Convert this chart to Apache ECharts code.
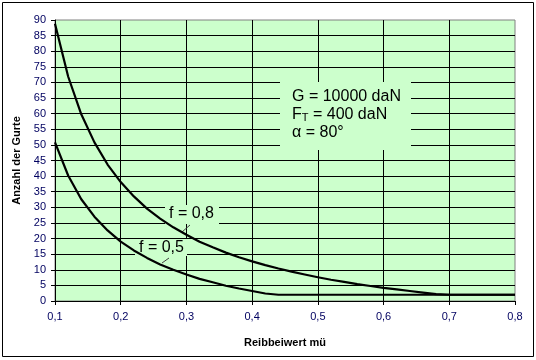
<!DOCTYPE html>
<html>
<head>
<meta charset="utf-8">
<script src="https://cdn.jsdelivr.net/npm/echarts@6/dist/echarts.min.js"></script>
<style>
html,body{margin:0;padding:0;background:#fff;}
#c{width:536px;height:360px;}
</style>
</head>
<body>
<div id="c"></div>
<script>
var mu = [0.10,0.12,0.14,0.16,0.18,0.20,0.22,0.24,0.26,0.28,0.30,0.32,0.34,0.36,0.38,0.40,0.42,0.44,0.46,0.48,0.50,0.52,0.54,0.56,0.58,0.60,0.62,0.64,0.66,0.68,0.70,0.72,0.74,0.76,0.78,0.80];
var f08 = [88.8,71.9,59.8,50.8,43.7,38.1,33.5,29.6,26.4,23.6,21.2,19.0,17.2,15.5,14.0,12.7,11.5,10.4,9.4,8.5,7.6,6.8,6.1,5.4,4.8,4.2,3.7,3.2,2.7,2.2,2,2,2,2,2,2];
var f05 = [50.8,40.2,32.6,27.0,22.6,19.0,16.2,13.8,11.7,10.0,8.5,7.1,6.0,4.9,4.0,3.2,2.4,2,2,2,2,2,2,2,2,2,2,2,2,2,2,2,2,2,2,2];
var xTitle = 'Reibbeiwert mü';
var yTitle = 'Anzahl der Gurte';
var infoLines = ['G = 10000 daN', 'F', 'T', ' = 400 daN', 'α = 80°'];
var curveLabels = ['f = 0,8', 'f = 0,5'];

function pairs(xs, ys){ return xs.map(function(x,i){ return [x, ys[i]]; }); }

var chart = echarts.init(document.getElementById('c'), null, {renderer:'canvas'});
var font = 'Arial, "Liberation Sans", sans-serif';
var bg = '#CCFFCC';
chart.setOption({
  animation:false,
  backgroundColor:'#ffffff',
  grid:{left:55, right:21, top:20, bottom:59, show:true, backgroundColor:bg, borderColor:'#808080', borderWidth:1},
  xAxis:{
    type:'value', min:0.1, max:0.8, interval:0.1,
    name:xTitle, nameLocation:'middle', nameGap:36,
    nameTextStyle:{fontFamily:font, fontSize:11, fontWeight:'bold', color:'#000'},
    axisLine:{show:true, lineStyle:{color:'#000', width:1}},
    axisTick:{show:true, length:4, lineStyle:{color:'#000'}},
    axisLabel:{margin:10, fontFamily:font, fontSize:11, color:'#000060', formatter:function(v){return v.toFixed(1).replace('.',',');}},
    splitLine:{show:true, showMinLine:false, showMaxLine:false, lineStyle:{color:'#000', width:1}}
  },
  yAxis:{
    type:'value', min:0, max:90, interval:5,
    name:yTitle, nameLocation:'middle', nameGap:30, nameRotate:90,
    nameTextStyle:{fontFamily:font, fontSize:11, fontWeight:'bold', color:'#000'},
    axisLine:{show:true, lineStyle:{color:'#000', width:1}},
    axisTick:{show:true, length:4, lineStyle:{color:'#000'}},
    axisLabel:{margin:9, fontFamily:font, fontSize:11, color:'#000060'},
    splitLine:{show:true, showMinLine:false, showMaxLine:false, lineStyle:{color:'#000', width:1}}
  },
  series:[
    {type:'line', data:pairs(mu,f08), showSymbol:false, lineStyle:{color:'#000', width:2.2}, z:5},
    {type:'line', data:pairs(mu,f05), showSymbol:false, lineStyle:{color:'#000', width:2.2}, z:5}
  ],
  graphic:[
    {type:'rect', shape:{x:2.5, y:2.5, width:531, height:354}, style:{fill:null, stroke:'#000', lineWidth:1}, z:100},
    {type:'rect', shape:{x:280, y:82, width:131, height:68}, style:{fill:bg}, z:1},
    {type:'rect', shape:{x:165, y:205, width:54, height:19}, style:{fill:bg}, z:1},
    {type:'rect', shape:{x:135, y:239, width:52, height:17}, style:{fill:bg}, z:1},
    {type:'text', left:292, top:89, style:{text:infoLines[0], font:'16px '+font, fill:'#000'}, z:2},
    {type:'text', left:292, top:107, style:{
      text:'{a|'+infoLines[1]+'}{b|'+infoLines[2]+'}{a|'+infoLines[3]+'}',
      rich:{a:{fontSize:16, fontFamily:font, color:'#000'}, b:{fontSize:11, fontFamily:font, color:'#000', padding:[5,0,0,0]}}
    }, z:2},
    {type:'text', left:292, top:125, style:{text:infoLines[4], font:'16px '+font, fill:'#000'}, z:2},
    {type:'text', left:169, top:206, style:{text:curveLabels[0], font:'16px '+font, fill:'#000'}, z:2},
    {type:'text', left:139, top:240, style:{text:curveLabels[1], font:'16px '+font, fill:'#000'}, z:2},
    {type:'line', shape:{x1:190, y1:225, x2:182, y2:232}, style:{stroke:'#404040', lineWidth:1}, z:2},
    {type:'line', shape:{x1:169, y1:258, x2:162, y2:263}, style:{stroke:'#404040', lineWidth:1}, z:2}
  ]
});
</script>
</body>
</html>
